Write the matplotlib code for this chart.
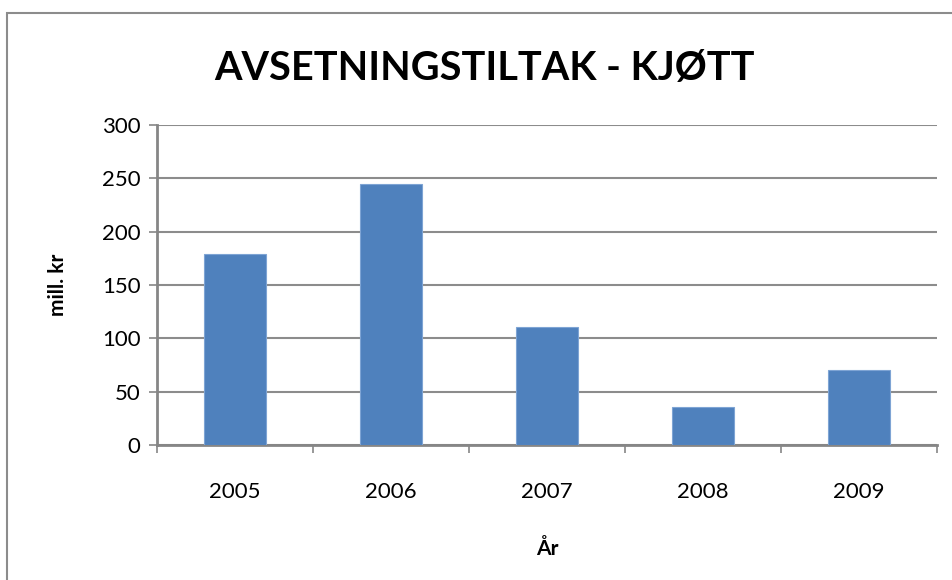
import matplotlib
matplotlib.use("Agg")
import matplotlib.pyplot as plt
from matplotlib.patches import Rectangle

years = ["2005", "2006", "2007", "2008", "2009"]
values = [179, 245, 111, 36, 70]
yticks = [0, 50, 100, 150, 200, 250, 300]

plt.rcParams['font.family'] = ['Lato', 'DejaVu Sans']

fig = plt.figure(figsize=(9.53, 5.8), dpi=100)
fig.patch.set_facecolor("white")
# outer chart border
fig.add_artist(Rectangle((7/953, -0.05), 1.1, 1 - 13/580 + 0.05, transform=fig.transFigure,
                         fill=False, edgecolor="#8c8c8c", linewidth=1.5))

ax = fig.add_axes([157/953, 1 - 445/580, (937 - 157)/953, 320/580])
x = range(len(years))
ax.bar(x, values, width=0.4, color="#4f81bd", edgecolor="#7ea4d4", linewidth=0.8, zorder=3)

ax.set_xlim(-0.5, len(years) - 0.5)
ax.set_ylim(0, 300)
ax.set_yticks(yticks)
ax.set_yticklabels([str(v) for v in yticks], fontsize=16)
ax.set_xticks(list(x))
ax.set_xticklabels(years, fontsize=16)
ax.tick_params(axis="x", length=0, pad=27)
ax.tick_params(axis="y", length=6, width=1.2, color="#868686", pad=6)
# category boundary ticks on x axis
ax.set_xticks([i - 0.5 for i in range(len(years) + 1)], minor=True)
ax.tick_params(axis="x", which="minor", length=6, width=1.2, color="#868686", direction="out")

ax.grid(axis="y", color="#8c8c8c", linewidth=1.5, zorder=0)
ax.set_axisbelow(True)
for s in ["top", "right"]:
    ax.spines[s].set_visible(False)
for s in ["left", "bottom"]:
    ax.spines[s].set_color("#868686")
    ax.spines[s].set_linewidth(2)

ax.set_ylabel("mill. kr", fontsize=15, fontweight="bold", labelpad=24)
ax.set_xlabel("År", fontsize=15, fontweight="bold", labelpad=26)

fig.text(484/953, 1 - 68/580, "AVSETNINGSTILTAK - KJØTT", ha="center", va="center",
         fontsize=28.5, fontweight="bold")

fig.savefig("out.png", dpi=100, facecolor="white")
